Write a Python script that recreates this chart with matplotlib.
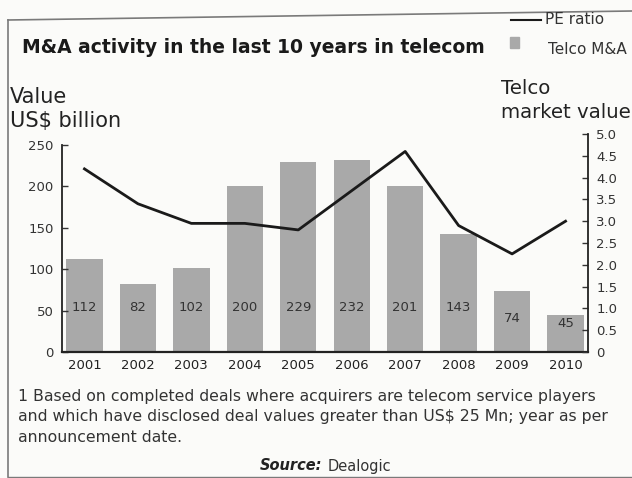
import matplotlib
matplotlib.use("Agg")
import matplotlib.pyplot as plt
from matplotlib.lines import Line2D
from matplotlib.patches import Rectangle

years = ["2001", "2002", "2003", "2004", "2005", "2006", "2007", "2008", "2009", "2010"]
ma_value = [112, 82, 102, 200, 229, 232, 201, 143, 74, 45]
pe_ratio = [4.2, 3.4, 2.95, 2.95, 2.8, 3.7, 4.6, 2.9, 2.25, 3.0]
left_ticks = [0, 50, 100, 150, 200, 250]
right_ticks = [0, 0.5, 1.0, 1.5, 2.0, 2.5, 3.0, 3.5, 4.0, 4.5, 5.0]
right_labels = ["0", "0.5", "1.0", "1.5", "2.0", "2.5", "3.0", "3.5", "4.0", "4.5", "5.0"]

W, H = 632, 478
plt.rcParams["font.family"] = ["DejaVu Sans"]
fig = plt.figure(figsize=(W / 100, H / 100), dpi=100)
fig.patch.set_facecolor("#fbfbf9")

def fx(px):
    return px / W

def fy(py):
    return 1 - py / H

# frame around the exhibit
frame_col = "#7a7a7a"
fig.add_artist(Line2D([fx(8), fx(8)], [fy(20), fy(477)], color=frame_col, lw=1.2))
fig.add_artist(Line2D([fx(8), fx(632)], [fy(20), fy(11)], color=frame_col, lw=1.2))
fig.add_artist(Line2D([fx(8), fx(632)], [fy(477), fy(477)], color=frame_col, lw=1.0))

left, right = 62, 588
bottom, top = 352, 134
ax = fig.add_axes([fx(left), fy(bottom), fx(right - left), (bottom - top) / H])
ax.set_facecolor("none")

x = list(range(len(years)))
bar_col = "#a9a9a9"
txt_col = "#333333"
ax.bar(x, ma_value, width=0.68, color=bar_col, edgecolor="none", zorder=1)
ax.set_xlim(-0.42, len(years) - 0.58)
ax.set_ylim(0, 250 * (bottom - top) / (bottom - 145))
ax.set_yticks(left_ticks)
ax.set_yticklabels([str(t) for t in left_ticks], fontsize=9.5, color=txt_col)
ax.set_xticks(x)
ax.set_xticklabels(years, fontsize=9.5, color="#222222")
ax.tick_params(axis="x", length=0, pad=5)
ax.tick_params(axis="y", length=4, width=1, direction="in", pad=6, color="#333333")
for s in ["top", "right"]:
    ax.spines[s].set_visible(False)
ax.spines["left"].set_bounds(0, 250)
ax.spines["left"].set_linewidth(1.3)
ax.spines["bottom"].set_linewidth(1.6)
ax.spines["left"].set_color("#222222")
ax.spines["bottom"].set_color("#222222")

# value labels inside the bars
label_y = [54, 54, 54, 54, 54, 54, 54, 54, 41, 34]
for xi, v, ly in zip(x, ma_value, label_y):
    ax.text(xi, ly, str(v), ha="center", va="center", fontsize=9.5, color=txt_col, zorder=3)

ax2 = ax.twinx()
ax2.plot(x, pe_ratio, color="#1a1a1a", lw=2.0, zorder=4)
ax2.set_ylim(0, 5.0)
ax2.set_yticks(right_ticks)
ax2.set_yticklabels(right_labels, fontsize=9.5, color=txt_col)
ax2.tick_params(axis="y", length=4, width=1, direction="in", pad=6, color="#333333")
for s in ["top", "left", "bottom"]:
    ax2.spines[s].set_visible(False)
ax2.spines["right"].set_linewidth(1.3)
ax2.spines["right"].set_color("#222222")

# titles and axis captions
fig.text(fx(22), fy(47), "M&A activity in the last 10 years in telecom", fontsize=13.5,
         fontweight="bold", color="#1a1a1a", va="center", ha="left")
fig.text(fx(10), fy(97), "Value", fontsize=15, color="#222222", va="center")
fig.text(fx(10), fy(121), "US$ billion", fontsize=15, color="#222222", va="center")
fig.text(fx(501), fy(89), "Telco", fontsize=14.2, color="#222222", va="center")
fig.text(fx(501), fy(113), "market value", fontsize=14.2, color="#222222", va="center")

# legend
fig.add_artist(Line2D([fx(511), fx(541)], [fy(20), fy(20)], color="#1a1a1a", lw=1.5))
fig.text(fx(545), fy(20), "PE ratio", fontsize=11, color=txt_col, va="center")
fig.add_artist(Rectangle((fx(510), fy(48)), fx(9), 11 / H, color=bar_col))
fig.text(fx(548), fy(49), "Telco M&A", fontsize=11, color=txt_col, va="center")

# footnote and source
notes = ["1 Based on completed deals where acquirers are telecom service players",
         "and which have disclosed deal values greater than US$ 25 Mn; year as per",
         "announcement date."]
for i, line in enumerate(notes):
    fig.text(fx(18), fy(396 + i * 21), line, fontsize=11.3, color=txt_col, va="center")
fig.text(fx(322), fy(466), "Source:", fontsize=10.5, fontweight="bold", fontstyle="italic",
         color="#222222", va="center", ha="right")
fig.text(fx(328), fy(466), "Dealogic", fontsize=10.5, color=txt_col, va="center", ha="left")

fig.savefig("out.png", dpi=100, facecolor=fig.get_facecolor())
